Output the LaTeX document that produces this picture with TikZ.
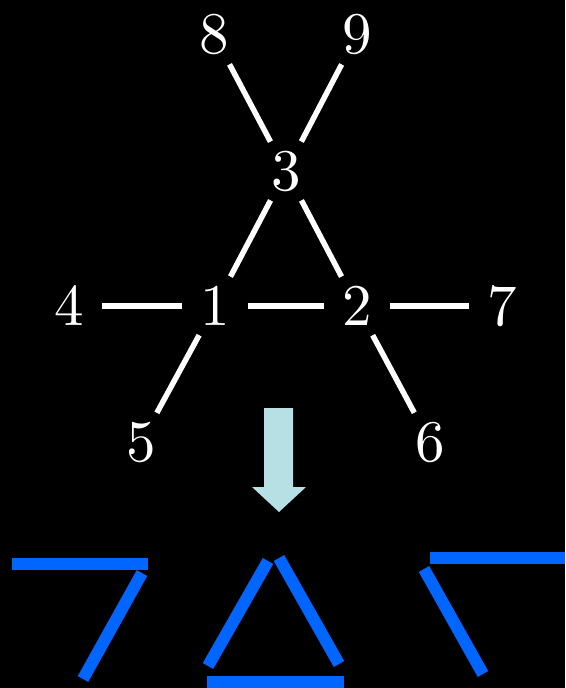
\documentclass[tikz,border=0pt]{standalone}
\usepackage{fontspec}
\usepackage{tikz}
\newfontfamily\numfont{lmroman10-regular}[Extension=.otf]
\definecolor{barblue}{RGB}{0,102,255}
\definecolor{arrowblue}{RGB}{183,224,228}

\begin{document}
\begin{tikzpicture}[
  x=1pt,y=-1pt,
  num/.style={circle,inner sep=0pt,minimum size=66pt,text=white,font=\numfont\fontsize{59}{71}\selectfont},
  bond/.style={white,line width=5.5pt},
  bar/.style={barblue,line width=12pt},
  downarrow/.style={fill=arrowblue}
]
\fill[black] (0,0) rectangle (565,688);
\useasboundingbox (0,0) rectangle (565,688);
\node[num] (n8) at (214,35) {8};
\node[num] (n9) at (357,35) {9};
\node[num] (n3) at (286,171) {3};
\node[num] (n4) at (69,306) {4};
\node[num] (n1) at (215,306) {1};
\node[num] (n2) at (357,306) {2};
\node[num] (n7) at (502,306) {7};
\node[num] (n5) at (141,442) {5};
\node[num] (n6) at (430,442) {6};
\draw[bond] (n8) -- (n3);
\draw[bond] (n9) -- (n3);
\draw[bond] (n3) -- (n1);
\draw[bond] (n3) -- (n2);
\draw[bond] (n4) -- (n1);
\draw[bond] (n1) -- (n2);
\draw[bond] (n2) -- (n7);
\draw[bond] (n1) -- (n5);
\draw[bond] (n2) -- (n6);
% arrow down
\fill[downarrow] (264,408) -- (293,408) -- (293,487) -- (306,487) -- (279,512)
  -- (252,487) -- (264,487) -- cycle;
% left piece
\draw[bar] (12,564) -- (148,564);
\draw[bar] (142,573) -- (83,679);
% triangle
\draw[bar] (268,561) -- (208,666);
\draw[bar] (279,558) -- (339,664);
\draw[bar] (207,682) -- (344,682);
% right piece
\draw[bar] (430,558) -- (565,558);
\draw[bar] (424,569) -- (483,674);
\end{tikzpicture}
\end{document}
